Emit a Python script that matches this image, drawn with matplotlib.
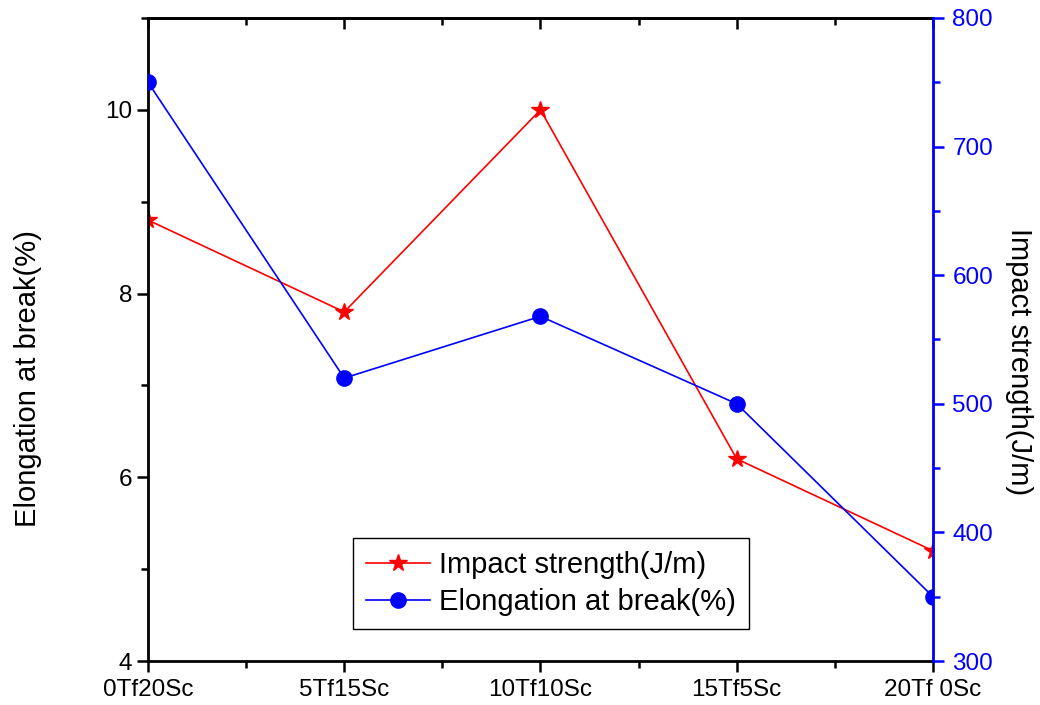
import matplotlib
matplotlib.use('Agg')
import matplotlib.pyplot as plt
from matplotlib.ticker import MultipleLocator

plt.rcParams['font.family'] = ['Liberation Sans', 'DejaVu Sans']

# data
samples = ['0Tf20Sc', '5Tf15Sc', '10Tf10Sc', '15Tf5Sc', '20Tf 0Sc']
impact = [8.8, 7.8, 10.0, 6.2, 5.2]          # left axis
elongation = [750, 520, 568, 500, 350]       # right axis

x = list(range(len(samples)))

fig = plt.figure(figsize=(10.4, 7.05), dpi=100)
ax = fig.add_axes([0.1423, 0.0624, 0.7548, 0.9121])
ax2 = ax.twinx()

l1, = ax.plot(x, impact, color='red', lw=1.2, marker='*', ms=13,
              label='Impact strength(J/m)')
l2, = ax2.plot(x, elongation, color='blue', lw=1.2, marker='o', ms=11,
               label='Elongation at break(%)')

ax.set_xlim(0, 4)
ax.set_ylim(4, 11)
ax2.set_ylim(300, 800)

ax.set_xticks(x)
ax.set_xticklabels(samples)
ax.xaxis.set_minor_locator(MultipleLocator(0.5))
ax.set_yticks([4, 6, 8, 10])
ax.yaxis.set_minor_locator(MultipleLocator(1))
ax2.set_yticks([300, 400, 500, 600, 700, 800])
ax2.yaxis.set_minor_locator(MultipleLocator(50))

ax.tick_params(axis='both', which='major', length=8, width=1.8, labelsize=17.5,
               direction='out')
ax.tick_params(axis='x', which='major', pad=5)
ax.tick_params(axis='both', which='minor', length=5, width=1.8,
               direction='out')

# top ticks point inward
sec = ax.secondary_xaxis('top')
sec.set_xticks(x)
sec.set_xticklabels([])
sec.xaxis.set_minor_locator(MultipleLocator(0.5))
sec.tick_params(which='major', direction='in', length=8, width=1.8)
sec.tick_params(which='minor', direction='in', length=5, width=1.8)
sec.spines['top'].set_linewidth(2)

ax2.tick_params(axis='y', which='major', length=8, width=1.8, labelsize=17.5,
                colors='blue', direction='out', pad=6)
ax2.tick_params(axis='y', which='minor', length=5, width=1.8,
                colors='blue', direction='out')

for s in ['left', 'bottom', 'top']:
    ax.spines[s].set_linewidth(2)
ax2.spines['right'].set_color('blue')
ax2.spines['right'].set_linewidth(2)
ax2.spines['left'].set_visible(False)
ax2.spines['top'].set_visible(False)
ax2.spines['bottom'].set_visible(False)

ax.set_ylabel('Elongation at break(%)', fontsize=21)
ax.yaxis.set_label_coords(-0.135, 0.44)
ax2.set_ylabel('Impact strength(J/m)', fontsize=21, rotation=270)
ax2.yaxis.set_label_coords(1.128, 0.465)

leg = ax2.legend(handles=[l1, l2], loc='upper left',
                 bbox_to_anchor=(0.261, 0.191), borderaxespad=0,
                 fontsize=21, frameon=True, fancybox=False, edgecolor='black',
                 handlelength=2.2, handletextpad=0.3, borderpad=0.45,
                 labelspacing=0.3, framealpha=1)
leg.get_frame().set_linewidth(1)

plt.savefig('out.png', dpi=100)
